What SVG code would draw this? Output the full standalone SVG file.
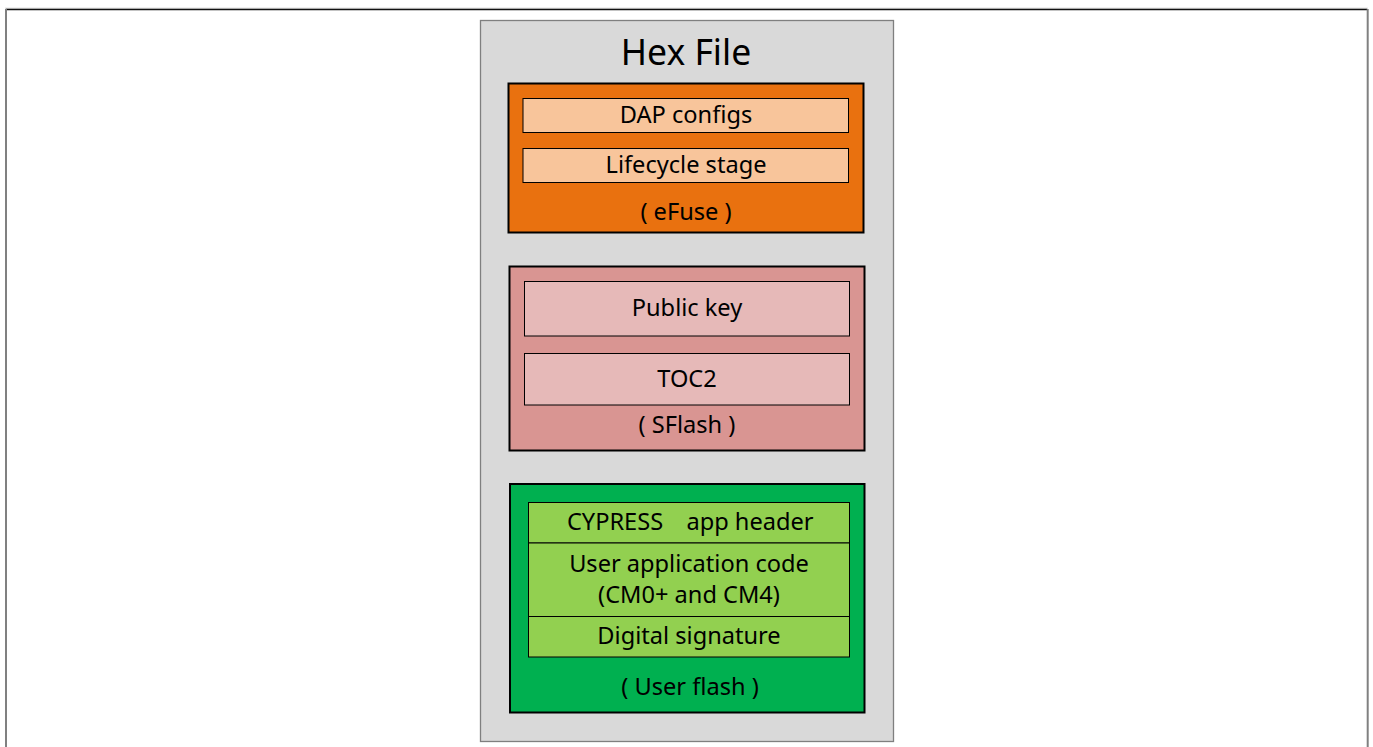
<svg xmlns="http://www.w3.org/2000/svg" width="1373" height="747" viewBox="0 0 1373 747">
  <style>
    text { font-family: "Noto Sans", "Open Sans", sans-serif; fill: #000; text-anchor: middle; }
    .lbl { font-size: 23.6px; }
    .title { font-size: 35.5px; }
    .sect { stroke: #000; stroke-width: 2; }
    .item { stroke: #000; stroke-width: 1; }
  </style>
  <rect width="1373" height="747" fill="#ffffff"/>
  <!-- page frame -->
  <g id="frame">
    <line x1="5" y1="8.2" x2="1368" y2="8.2" stroke="#d0d0d0" stroke-width="1"/>
    <line x1="6" y1="9.5" x2="1367" y2="9.5" stroke="#111" stroke-width="1.5"/>
    <line x1="6" y1="9" x2="6" y2="747" stroke="#808080" stroke-width="2"/>
    <line x1="1367.7" y1="9" x2="1367.7" y2="747" stroke="#808080" stroke-width="2"/>
  </g>
  <!-- container -->
  <g id="hex-file">
    <rect x="480.5" y="20.5" width="413" height="721" fill="#d9d9d9" stroke="#7f7f7f" stroke-width="1.3"/>
    <text class="title" x="686" y="65">Hex File</text>
  </g>
  <!-- eFuse region -->
  <g id="efuse">
    <rect class="sect" x="508.5" y="83.5" width="355" height="149" fill="#e9710f"/>
    <text class="lbl" x="686" y="220">( eFuse )</text>
  </g>
  <g id="dap-configs">
    <rect class="item" x="523" y="98.5" width="325.5" height="34" fill="#f8c59b"/>
    <text class="lbl" x="686" y="122.7">DAP configs</text>
  </g>
  <g id="lifecycle-stage">
    <rect class="item" x="523" y="148.5" width="325.5" height="34" fill="#f8c59b"/>
    <text class="lbl" x="686" y="172.7">Lifecycle stage</text>
  </g>
  <!-- SFlash region -->
  <g id="sflash">
    <rect class="sect" x="509.5" y="266.5" width="355" height="184" fill="#d99592"/>
    <text class="lbl" x="687" y="432.7">( SFlash )</text>
  </g>
  <g id="public-key">
    <rect class="item" x="524.5" y="281.5" width="325" height="54.5" fill="#e6b9b8"/>
    <text class="lbl" x="687" y="316">Public key</text>
  </g>
  <g id="toc2">
    <rect class="item" x="524.5" y="353.5" width="325" height="51.5" fill="#e6b9b8"/>
    <text class="lbl" x="687" y="386.7">TOC2</text>
  </g>
  <!-- User flash region -->
  <g id="user-flash">
    <rect class="sect" x="510" y="484" width="354.5" height="228.5" fill="#00b050"/>
    <text class="lbl" x="690" y="695">( User flash )</text>
  </g>
  <g id="app-header">
    <rect class="item" x="528.5" y="502.5" width="321" height="40.5" fill="#92d050"/>
    <text class="lbl" x="615" y="530">CYPRESS</text>
    <text class="lbl" x="750" y="530">app header</text>
  </g>
  <g id="app-code">
    <rect class="item" x="528.5" y="543" width="321" height="73.5" fill="#92d050"/>
    <text class="lbl" x="689" y="571.7">User application code</text>
    <text class="lbl" x="689" y="603">(CM0+ and CM4)</text>
  </g>
  <g id="digital-signature">
    <rect class="item" x="528.5" y="616.5" width="321" height="40.5" fill="#92d050"/>
    <text class="lbl" x="689" y="644.3">Digital signature</text>
  </g>
  <g id="connectors"/>
</svg>
